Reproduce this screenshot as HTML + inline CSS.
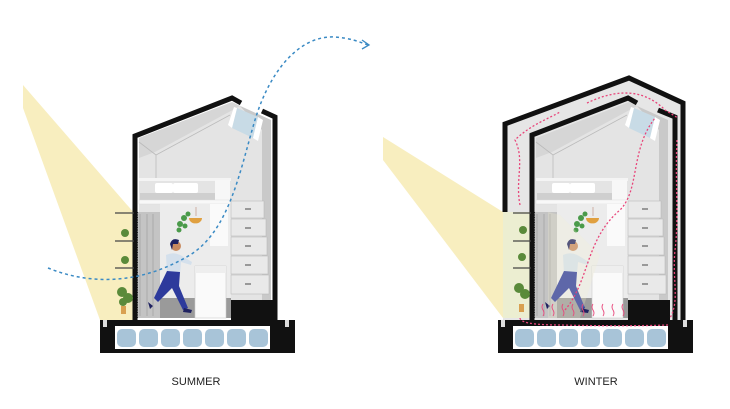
<!DOCTYPE html>
<html><head><meta charset="utf-8"><style>
html,body{margin:0;padding:0;background:#fff;width:730px;height:409px;overflow:hidden}
svg{display:block}
text{font-family:"Liberation Sans",sans-serif;font-size:11px;fill:#222}
</style></head><body>
<svg width="730" height="409" viewBox="0 0 730 409" xmlns="http://www.w3.org/2000/svg">
<defs>
<g id="interior">
  <polygon points="139,138 232,102 271,120 271,318 139,318" fill="#e4e4e4"/>
  <polygon points="139,138 232,102 240,106 155,152 139,158" fill="#d6d6d6"/>
  <polygon points="240,106 271,120 271,318 262,318 262,130" fill="#c9c9c9"/>
  <polyline points="139,142 156,155 230,115" fill="none" stroke="#bbb" stroke-width="0.8"/>
  <line x1="156" y1="155" x2="156" y2="180" stroke="#bbb" stroke-width="0.8"/>
  <polygon points="237,108 258,117 253,138 232,128" fill="#c8dbe6"/>
  <polygon points="232,128 237,108 234,107 228,125" fill="#fff"/>
  <polygon points="258,117 263,120 258,141 253,138" fill="#fff"/>
  <rect x="139" y="178" width="92" height="3" fill="#f4f4f4"/>
  <rect x="140" y="193" width="80" height="7" fill="#cfcfcf"/>
  <rect x="155" y="183" width="18" height="10" rx="2" fill="#fff"/>
  <rect x="173" y="183" width="25" height="10" rx="2" fill="#fff"/>
  <rect x="215" y="180" width="15" height="20" fill="#f7f7f7"/>
  <rect x="139" y="200" width="92" height="4" fill="#f8f8f8" stroke="#ddd" stroke-width="0.5"/>
  <rect x="160" y="204" width="71" height="94" fill="#ececec"/>
  <rect x="210" y="204" width="18" height="42" fill="#fafafa"/>
  <rect x="139" y="298" width="92" height="20" fill="#9a9a9a"/>
  <rect x="231" y="201" width="33" height="17" fill="#e9e9e9" stroke="#bbb" stroke-width="0.6"/>
  <rect x="231" y="219" width="35" height="17" fill="#e9e9e9" stroke="#bbb" stroke-width="0.6"/>
  <rect x="231" y="237" width="36" height="18" fill="#e9e9e9" stroke="#bbb" stroke-width="0.6"/>
  <rect x="231" y="256" width="37" height="18" fill="#e9e9e9" stroke="#bbb" stroke-width="0.6"/>
  <rect x="231" y="275" width="38" height="19" fill="#e9e9e9" stroke="#bbb" stroke-width="0.6"/>
  <rect x="245" y="208" width="6" height="2" fill="#999"/><rect x="245" y="227" width="6" height="2" fill="#999"/>
  <rect x="245" y="245" width="6" height="2" fill="#999"/><rect x="245" y="264" width="6" height="2" fill="#999"/>
  <rect x="245" y="283" width="6" height="2" fill="#999"/>
  <rect x="231" y="300" width="42" height="20" fill="#111"/>
  <rect x="195" y="266" width="31" height="52" fill="#fafafa" stroke="#ccc" stroke-width="0.6"/>
  <rect x="195" y="266" width="31" height="7" fill="#eee"/>
  <rect x="133" y="212" width="27" height="106" fill="#c4c4c4"/>
  <g stroke="#999" stroke-width="0.6">
    <line x1="140" y1="214" x2="140" y2="316"/><line x1="147" y1="214" x2="147" y2="316"/><line x1="153" y1="214" x2="153" y2="316"/>
  </g>
  <line x1="136" y1="212" x2="136" y2="318" stroke="#333" stroke-width="4" stroke-dasharray="1 1.5"/>
  <line x1="196" y1="207" x2="196" y2="216" stroke="#b87" stroke-width="0.6"/>
  <path d="M189,218 h13 a6,5 0 0 1 -13,0z" fill="#e0a040"/>
  <g fill="#4a9a4a"><circle cx="184" cy="218" r="3"/><circle cx="180" cy="224" r="3"/><circle cx="188" cy="214" r="2.5"/><circle cx="179" cy="230" r="2.5"/><circle cx="185" cy="226" r="2.5"/></g>
  <circle cx="176" cy="246" r="5" fill="#c88a60"/>
  <path d="M170,244 q2,-7 9,-4 l-1,4 h-5 l-1,6z" fill="#1f2260"/>
  <path d="M166,255 q8,-4 16,1 l10,6 -1,3 -10,-3 -1,12 -13,0z" fill="#d4e0ec"/>
  <path d="M167,271 l13,1 -1,14 9,22 -5,2 -11,-22 -14,14 -4,-4 z" fill="#2d3a9c"/>
  <path d="M148,302 l5,4 -3,3 z" fill="#1f2260"/>
  <path d="M184,308 l8,2 -1,3 -8,-1z" fill="#1f2260"/>
</g>
<g id="base">
  <rect x="100" y="320" width="195" height="33" fill="#111"/>
  <rect x="115" y="326" width="155" height="23" fill="#fff"/>
  <g fill="#a8c4d8">
    <rect x="117" y="329" width="19" height="18" rx="5"/><rect x="139" y="329" width="19" height="18" rx="5"/>
    <rect x="161" y="329" width="19" height="18" rx="5"/><rect x="183" y="329" width="19" height="18" rx="5"/>
    <rect x="205" y="329" width="19" height="18" rx="5"/><rect x="227" y="329" width="19" height="18" rx="5"/>
    <rect x="249" y="329" width="19" height="18" rx="5"/>
  </g>
  <rect x="103" y="320" width="4" height="7" fill="#ddd"/><rect x="285" y="320" width="4" height="7" fill="#ddd"/>
</g>
</defs>

<polygon points="23,85 135,214 135,320 100,320 23,108" fill="#f8eebf"/>
<use href="#interior"/>
<path d="M135,320 V136 L232,98 L241,103 M262,111 L275,117 V320" fill="none" stroke="#111" stroke-width="5"/>
<use href="#base"/>
<g stroke="#444" stroke-width="1.2"><line x1="115" y1="213" x2="134" y2="213"/><line x1="115" y1="241" x2="134" y2="241"/><line x1="115" y1="268" x2="134" y2="268"/></g>
<g fill="#5a8a3a"><circle cx="125" cy="233" r="4"/><circle cx="125" cy="260" r="4"/><circle cx="122" cy="292" r="5"/><circle cx="128" cy="298" r="5"/><circle cx="123" cy="302" r="4"/></g>
<rect x="121" y="306" width="5" height="8" fill="#d9a050"/>
<path d="M48,268 C90,285 140,285 190,255 C230,230 240,170 255,120 C270,70 300,35 335,37 C350,38 360,42 368,45" fill="none" stroke="#3a8ac4" stroke-width="1.5" stroke-dasharray="3 3"/>
<path d="M362,40 L369,45 L362,49" fill="none" stroke="#3a8ac4" stroke-width="1.3"/>
<text x="196" y="385" text-anchor="middle">SUMMER</text>

<polygon points="503,122 629,76 685,102 685,320 503,320" fill="#e6e6e6"/>
<polygon points="383,137 503,212 503,318 383,160" fill="#f8eebf"/>
<g transform="translate(397,0)"><use href="#interior"/></g>
<rect x="503" y="212" width="30" height="106" fill="#eceecd" opacity="0.85"/>
<polygon points="560,215 600,255 580,318 548,318 548,212" fill="#f3efcf" opacity="0.25"/>
<path d="M532,320 V135 L628,98 L637,103 M658,110 L675,117 V320" fill="none" stroke="#111" stroke-width="5"/>
<path d="M505,212 V124 L629,78 L683,103 V320" fill="none" stroke="#111" stroke-width="5"/>
<g stroke="#444" stroke-width="1.2"><line x1="513" y1="213" x2="531" y2="213"/><line x1="513" y1="241" x2="531" y2="241"/><line x1="513" y1="268" x2="531" y2="268"/></g>
<g fill="#5a8a3a"><circle cx="523" cy="230" r="4"/><circle cx="522" cy="257" r="4"/><circle cx="519" cy="288" r="5"/><circle cx="525" cy="294" r="5"/></g>
<rect x="519" y="304" width="5" height="8" fill="#d9a050"/>
<g transform="translate(398,0)"><use href="#base"/></g>
<g fill="none" stroke="#e8457a" stroke-width="1.3" stroke-dasharray="2 2">
<path d="M520,205 C515,180 525,160 515,140 C530,125 550,118 560,112"/>
<path d="M587,103 C610,92 640,85 665,110 L678,118"/>
<path d="M677,140 C675,180 679,220 675,250 C672,280 680,300 670,318"/>
<path d="M668,325 C640,326 600,326 560,325 C530,325 520,322 520,318"/>
<path d="M565,310 C590,280 585,240 620,210 C640,190 630,150 655,118"/>
</g>
<g stroke="#e8457a" stroke-width="0.9" fill="none">
<path d="M543,316 q2,-3 0,-6 q-2,-3 0,-6"/><path d="M553,316 q2,-3 0,-6 q-2,-3 0,-6"/><path d="M563,316 q2,-3 0,-6 q-2,-3 0,-6"/>
<path d="M573,316 q2,-3 0,-6 q-2,-3 0,-6"/><path d="M583,316 q2,-3 0,-6 q-2,-3 0,-6"/><path d="M593,316 q2,-3 0,-6 q-2,-3 0,-6"/>
<path d="M603,316 q2,-3 0,-6 q-2,-3 0,-6"/><path d="M613,316 q2,-3 0,-6 q-2,-3 0,-6"/><path d="M623,316 q2,-3 0,-6 q-2,-3 0,-6"/>
</g>
<text x="596" y="385" text-anchor="middle">WINTER</text>
</svg>
</body></html>
